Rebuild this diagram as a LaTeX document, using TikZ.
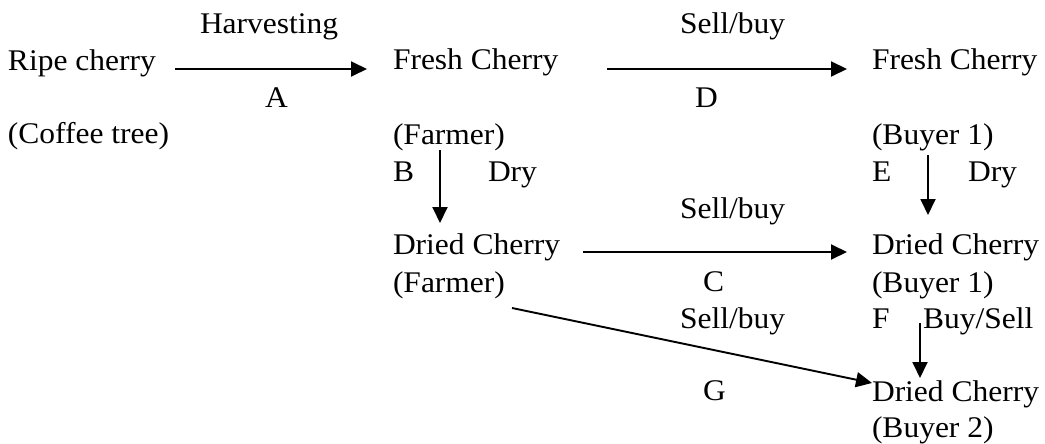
\documentclass[tikz,border=0pt]{standalone}
\usepackage{fontspec}
\setmainfont{Liberation Serif}[FakeStretch=1.05]
\usetikzlibrary{arrows.meta,calc}
\begin{document}
\begin{tikzpicture}[x=1pt,y=-1pt,
  txt/.style={inner sep=0pt,outer sep=0pt,anchor=base west,font=\fontsize{30}{30}\selectfont},
  arr/.style={line width=1.9pt,-{Triangle[length=16pt,width=15pt]}}]
\useasboundingbox[fill=white] (0,0) rectangle (1045,444);
% column 1
\node[txt] (ripe) at (8,71) {Ripe cherry};
\node[txt] (tree) at (8,143) {(Coffee tree)};
\node[txt] (harv) at (200,34) {Harvesting};
\node[txt] (lA) at (265,107) {A};
% column 2
\node[txt] (fc1) at (393,70) {Fresh Cherry};
\node[txt] (farm1) at (393,144) {(Farmer)};
\node[txt] (lB) at (393,181) {B};
\node[txt] (dry1) at (488,181) {Dry};
\node[txt] (dc1) at (393,254) {Dried Cherry};
\node[txt] (farm2) at (393,292) {(Farmer)};
% middle labels
\node[txt] (sb1) at (680,34) {Sell/buy};
\node[txt] (lD) at (695,107) {D};
\node[txt] (sb2) at (680,218) {Sell/buy};
\node[txt] (lC) at (703,291) {C};
\node[txt] (sb3) at (680,328) {Sell/buy};
\node[txt] (lG) at (703,400) {G};
% column 3
\node[txt] (fc2) at (872,70) {Fresh Cherry};
\node[txt] (buy1a) at (872,144) {(Buyer 1)};
\node[txt] (lE) at (872,181) {E};
\node[txt] (dry2) at (968,181) {Dry};
\node[txt] (dc2) at (872,254) {Dried Cherry};
\node[txt] (buy1b) at (872,292) {(Buyer 1)};
\node[txt] (lF) at (872,328) {F};
\node[txt] (bs) at (923,328) {Buy/Sell};
\node[txt] (dc3) at (872,401) {Dried Cherry};
\node[txt] (buy2) at (872,437) {(Buyer 2)};
% connectors
\draw[arr] ($(ripe.base west)+(167,-2)$) -- ($(fc1.base west)+(-26,-1)$);
\draw[arr] ($(fc1.base west)+(214,-1)$) -- ($(fc2.base west)+(-25,-1)$);
\draw[arr] ($(farm1.base west)+(47,6)$) -- ($(dc1.base west)+(47,-31)$);
\draw[arr] ($(buy1a.base west)+(56,11)$) -- ($(dc2.base west)+(56,-39)$);
\draw[arr] ($(dc1.base west)+(190,-2)$) -- ($(dc2.base west)+(-25,-2)$);
\draw[arr] ($(buy1b.base west)+(48,31)$) -- ($(dc3.base west)+(48,-23)$);
\draw[arr] ($(farm2.base west)+(119,16)$) -- ($(dc3.base west)+(0,-18)$);
\end{tikzpicture}
\end{document}
